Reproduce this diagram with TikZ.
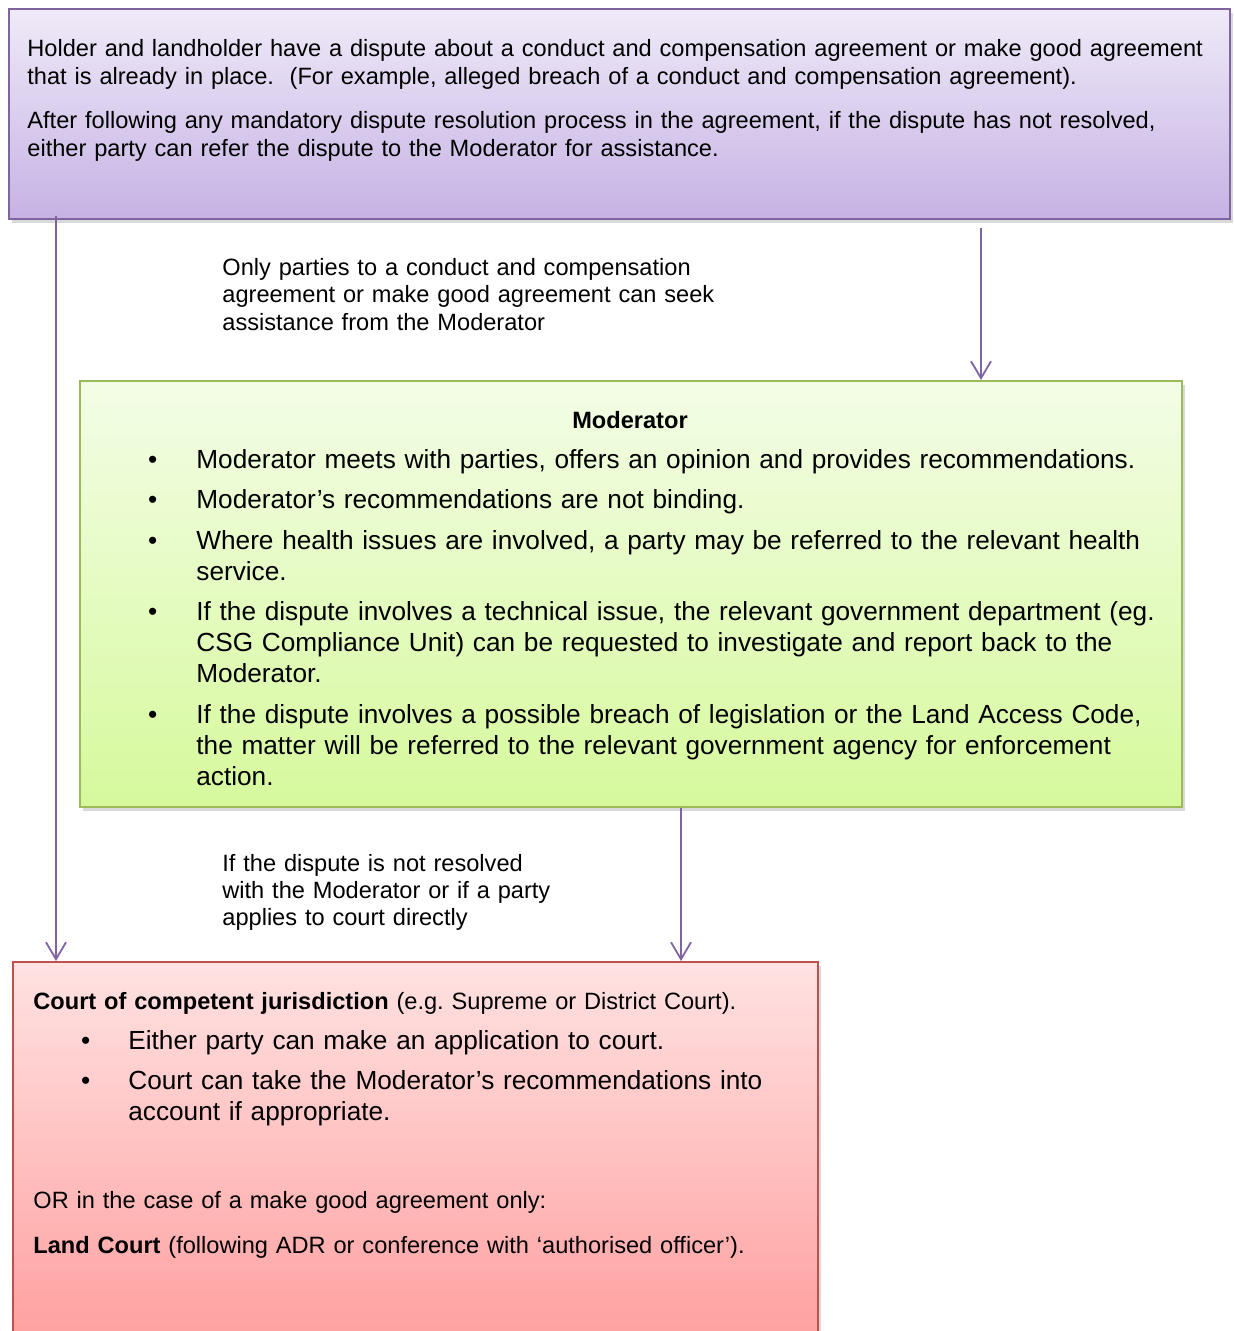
\documentclass[tikz,border=0pt]{standalone}
\usepackage{fontspec}
\setmainfont{Liberation Sans}
\usetikzlibrary{arrows.meta, positioning, shadows}

\definecolor{lilacTop}{HTML}{EFEAF8}
\definecolor{lilacBot}{HTML}{C6B2E4}
\definecolor{lilacLine}{HTML}{8064A2}
\definecolor{limeTop}{HTML}{F3FDE6}
\definecolor{limeBot}{HTML}{D6F99C}
\definecolor{limeLine}{HTML}{9BBB59}
\definecolor{roseTop}{HTML}{FFE2E2}
\definecolor{roseBot}{HTML}{FF9C9C}
\definecolor{roseLine}{HTML}{C0504D}

\tikzset{
  panel/.style={anchor=north west, inner sep=0pt, line width=0.9pt,
    drop shadow={opacity=0.3, shadow xshift=1.5pt, shadow yshift=-2pt}},
  flow/.style={draw=lilacLine, line width=0.9pt,
    -{Straight Barb[length=8.5pt, width=10pt, line width=0.9pt]}},
  words/.style={anchor=north west, inner sep=0pt, align=left, text width=#1},
}

% bullet list with fixed indents
\newenvironment{dotlist}[2]{%
  \begin{list}{\textbullet}{\setlength{\leftmargin}{#1}\setlength{\labelsep}{#2}%
    \setlength{\labelwidth}{10pt}\setlength{\topsep}{0pt}\setlength{\partopsep}{0pt}%
    \setlength{\parsep}{0pt}\setlength{\itemsep}{4.7pt}\setlength{\rightmargin}{0pt}}}%
  {\end{list}}

\begin{document}
\begin{tikzpicture}[x=0.5pt, y=-0.5pt]
  \useasboundingbox (0,0) rectangle (1234,1331);

  % the three boxes
  \node[panel, draw=lilacLine, top color=lilacTop, bottom color=lilacBot,
    minimum width=610.5pt, minimum height=105pt] (dispute) at (8,8) {};
  \node[panel, draw=limeLine, top color=limeTop, bottom color=limeBot,
    minimum width=551pt, minimum height=213pt] (moderator) at (79,380) {};
  \node[panel, draw=roseLine, top color=roseTop, bottom color=roseBot,
    minimum width=402.5pt, minimum height=200pt] (court) at (12,961) {};

  % text of the first box
  \node[words=600pt, font=\fontsize{11.8}{14}\selectfont] (disputetext) at (27,39) {%
    Holder and landholder have a dispute about a conduct and compensation agreement or make good agreement\\
    that is already in place.\ \ (For example, alleged breach of a conduct and compensation agreement).\\[8pt]
    After following any mandatory dispute resolution process in the agreement, if the dispute has not resolved,\\
    either party can refer the dispute to the Moderator for assistance.};

  % moderator box
  \node[font=\fontsize{11.8}{14}\selectfont\bfseries] (modtitle) at (630,420) {Moderator};
  \node[words=560pt, font=\fontsize{13.1}{15.5}\selectfont] (modlist) at (79,437) {%
    \begin{dotlist}{58.5pt}{19.5pt}
      \item Moderator meets with parties, offers an opinion and provides recommendations.
      \item Moderator’s recommendations are not binding.
      \item Where health issues are involved, a party may be referred to the relevant health\\
        service.
      \item If the dispute involves a technical issue, the relevant government department (eg.\\
        CSG Compliance Unit) can be requested to investigate and report back to the\\
        Moderator.
      \item If the dispute involves a possible breach of legislation or the Land Access Code,\\
        the matter will be referred to the relevant government agency for enforcement\\
        action.
    \end{dotlist}};

  % court box
  \node[words=390pt, font=\fontsize{11.8}{14}\selectfont] (courthead) at (33,992) {%
    \textbf{Court of competent jurisdiction} (e.g.\ Supreme or District Court).};
  \node[words=395pt, font=\fontsize{13.1}{15.2}\selectfont] (courtlist) at (12,1019) {%
    \begin{dotlist}{58pt}{19pt}
      \item Either party can make an application to court.
      \item Court can take the Moderator’s recommendations into\\
        account if appropriate.
    \end{dotlist}};
  \node[words=390pt, font=\fontsize{11.8}{14}\selectfont] (orline) at (33,1191) {%
    OR in the case of a make good agreement only:};
  \node[words=390pt, font=\fontsize{11.8}{14}\selectfont] (landcourt) at (33,1236) {%
    \textbf{Land Court} (following ADR or conference with ‘authorised officer’).};

  % notes beside the arrows
  \node[words=300pt, font=\fontsize{11.8}{13.7}\selectfont] (onlyparties) at (222,258) {%
    Only parties to a conduct and compensation\\
    agreement or make good agreement can seek\\
    assistance from the Moderator};
  \node[words=300pt, font=\fontsize{11.8}{13.5}\selectfont] (notresolved) at (222,854) {%
    If the dispute is not resolved\\
    with the Moderator or if a party\\
    applies to court directly};

  % arrows
  \coordinate (leftx) at (56,0);
  \coordinate (rightx) at (981,0);
  \coordinate (midx) at (681,0);
  \draw[flow] (dispute.south -| leftx) ++(0,-4) -- (court.north -| leftx);
  \draw[flow] (dispute.south -| rightx) ++(0,8) -- (moderator.north -| rightx);
  \draw[flow] (moderator.south -| midx) -- (court.north -| midx);
\end{tikzpicture}
\end{document}
